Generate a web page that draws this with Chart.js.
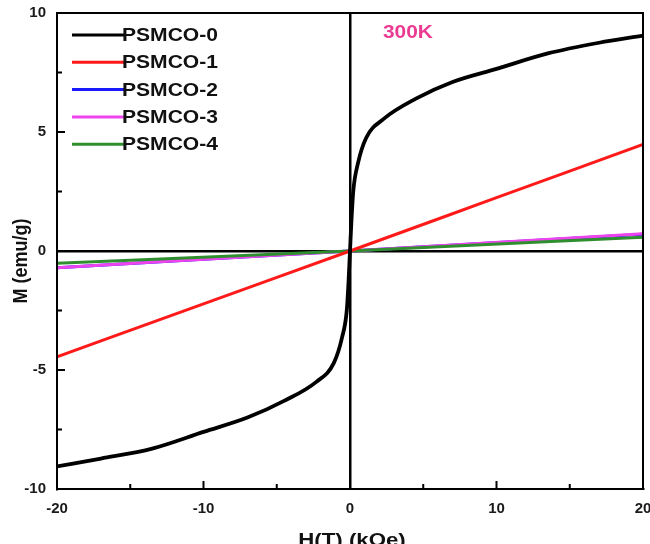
<!DOCTYPE html>
<html lang="en">
<head>
<meta charset="UTF-8">
<title>M-H loops 300K</title>
<script src="https://cdn.jsdelivr.net/npm/chart.js@4.4.0/dist/chart.umd.min.js"></script>
<style>
  html, body { margin: 0; padding: 0; overflow: hidden; background: #fff; }
  #wrap { position: absolute; left: 0; top: 0; width: 670px; height: 560px; }
</style>
</head>
<body>
<div id="wrap"><canvas id="mhCanvas" width="670" height="560"></canvas></div>
<script>
// series names + colours
const seriesNames = ['PSMCO-0', 'PSMCO-1', 'PSMCO-2', 'PSMCO-3', 'PSMCO-4'];
const seriesColors = ['#000000', '#ff1a1a', '#1a1aff', '#ee44ee', '#2f8f2f'];

// H (kOe) / M (emu/g)
const h0 = [-20, -17, -13.5, -10, -7, -4.5, -2.3, -1.1, -0.55, -0.22, -0.1, 0, 0.1, 0.22, 0.55, 1.1, 2.3, 4.5, 7, 10, 13.5, 17, 20];
const m0 = [-9.05, -8.72, -8.3, -7.6, -7.0, -6.3, -5.5, -4.7, -3.65, -2.5, -1.3, 0, 1.3, 2.5, 3.7, 4.75, 5.55, 6.4, 7.1, 7.65, 8.3, 8.75, 9.05];
const h1 = [-20, -10, 0, 10, 20];
const m1 = [-4.45, -2.22, 0, 2.24, 4.48];
const h2 = [-20, 0, 20];
const m2 = [-0.7, 0, 0.7];
const h3 = [-20, 0, 20];
const m3 = [-0.7, 0, 0.72];
const h4 = [-20, 0, 20];
const m4 = [-0.52, 0, 0.58];

// tick marks (inward)
const xTickValues = [-20, -15, -10, -5, 0, 5, 10, 15, 20];
const yTickValues = [-10, -7.5, -5, -2.5, 0, 2.5, 5, 7.5, 10];

function pts(hs, ms) { return hs.map((h, i) => ({x: h, y: ms[i]})); }

const allH = [h0, h1, h2, h3, h4];
const allM = [m0, m1, m2, m3, m4];
const drawOrder = [0, 1, 4, 3, 2]; // black on top, blue hidden at the bottom

function stretchText(ctx, text, x, y, sx) {
    ctx.save();
    ctx.translate(x, y);
    ctx.scale(sx, 1);
    ctx.fillText(text, 0, 0);
    ctx.restore();
}

const decor = {
    id: 'decor',
    afterDatasetsDraw(chart) {
        const ctx = chart.ctx;
        const a = chart.chartArea;
        const xs = chart.scales.x, ys = chart.scales.y;
        ctx.save();
        ctx.strokeStyle = '#000';
        ctx.lineWidth = 2;
        ctx.strokeRect(a.left, a.top, a.right - a.left, a.bottom - a.top);

        ctx.beginPath();
        xTickValues.forEach(v => {
            const px = xs.getPixelForValue(v);
            const len = v % 10 === 0 ? 8 : 5;
            ctx.moveTo(px, a.bottom);
            ctx.lineTo(px, a.bottom - len);
        });
        yTickValues.forEach(v => {
            const py = ys.getPixelForValue(v);
            const len = v % 5 === 0 ? 8 : 5;
            ctx.moveTo(a.left, py);
            ctx.lineTo(a.left + len, py);
        });
        ctx.stroke();

        // legend in the top-left corner
        seriesNames.forEach((name, i) => {
            const ly = 35 + i * 27.3;
            ctx.strokeStyle = seriesColors[i];
            ctx.lineWidth = 3;
            ctx.beginPath();
            ctx.moveTo(72, ly);
            ctx.lineTo(124, ly);
            ctx.stroke();
            ctx.fillStyle = '#111';
            ctx.font = 'bold 18px Arial';
            ctx.textAlign = 'left';
            ctx.textBaseline = 'middle';
            stretchText(ctx, name, 122, ly + 1, 1.17);
        });

        // temperature label
        ctx.fillStyle = '#ec3a93';
        ctx.font = 'bold 19px Arial';
        ctx.textBaseline = 'middle';
        stretchText(ctx, '300K', 383, 33, 1.1);

        // axis titles
        ctx.fillStyle = '#111';
        ctx.font = 'bold 18px Arial';
        ctx.textAlign = 'center';
        ctx.save();
        ctx.translate(21, 261);
        ctx.rotate(-Math.PI / 2);
        ctx.scale(1, 1.15);
        ctx.fillText('M (emu/g)', 0, 0);
        ctx.restore();

        ctx.font = 'bold 19px Arial';
        ctx.textBaseline = 'alphabetic';
        stretchText(ctx, 'H(T) (kOe)', 352, 546, 1.17);
        ctx.restore();
    }
};

const zeroLine = c => c.tick && c.tick.value === 0 ? '#000' : 'rgba(0,0,0,0)';

const ctx = document.getElementById('mhCanvas').getContext('2d');
const mhChart = new Chart(ctx, {
    type: 'line',
    data: {
        datasets: seriesNames.map((name, i) => ({
            label: name,
            data: pts(allH[i], allM[i]),
            borderColor: seriesColors[i],
            backgroundColor: seriesColors[i],
            borderWidth: i === 0 ? 3.8 : 3,
            pointRadius: 0,
            fill: false,
            cubicInterpolationMode: 'monotone',
            order: drawOrder.indexOf(i)
        }))
    },
    options: {
        responsive: false,
        devicePixelRatio: 1,
        animation: false,
        layout: { padding: { left: 0, top: 13, right: 27, bottom: 0 } },
        plugins: { legend: { display: false }, tooltip: { enabled: false } },
        scales: {
            x: {
                type: 'linear',
                min: -20,
                max: 20,
                afterFit: s => { s.height = 71; s.paddingLeft = 0; s.paddingRight = 0; },
                ticks: { stepSize: 10, padding: 11, maxRotation: 0, color: '#1a1a1a',
                         font: { family: 'Arial', weight: 'bold', size: 15 } },
                grid: { drawTicks: false, color: zeroLine, lineWidth: 2.5 },
                border: { display: true, color: '#000', width: 2 }
            },
            y: {
                min: -10,
                max: 10,
                afterFit: s => { s.width = 57; s.paddingTop = 0; s.paddingBottom = 0; },
                ticks: { stepSize: 5, padding: 11, color: '#1a1a1a',
                         font: { family: 'Arial', weight: 'bold', size: 15 } },
                grid: { drawTicks: false, color: zeroLine, lineWidth: 2.5 },
                border: { display: true, color: '#000', width: 2 }
            }
        }
    },
    plugins: [decor]
});
</script>
</body>
</html>
